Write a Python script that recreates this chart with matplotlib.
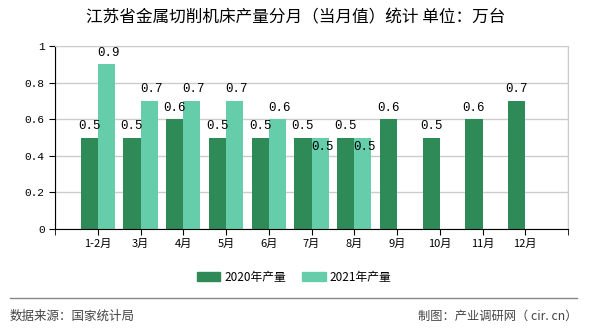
import numpy as np
import matplotlib.pyplot as plt
from matplotlib.lines import Line2D

plt.rcParams['font.family'] = ['Noto Sans CJK SC', 'DejaVu Sans']

months = ['1-2月', '3月', '4月', '5月', '6月', '7月', '8月', '9月', '10月', '11月', '12月']
prod_2020 = [0.5, 0.5, 0.6, 0.5, 0.5, 0.5, 0.5, 0.6, 0.5, 0.6, 0.7]
prod_2021 = [0.9, 0.7, 0.7, 0.7, 0.6, 0.5, 0.5]

c2020 = '#2e8b57'
c2021 = '#66cdaa'

fig = plt.figure(figsize=(5.9, 3.3), dpi=100)
ax = fig.add_axes([55/590, 1-229/330, 513/590, 183/330])

x = np.arange(1, len(months) + 1)
w = 0.4
b1 = ax.bar(x[:len(prod_2020)] - w/2, prod_2020, w, color=c2020, zorder=2)
b2 = ax.bar(x[:len(prod_2021)] + w/2, prod_2021, w, color=c2021, zorder=2)

mono = ['Liberation Mono', 'DejaVu Sans Mono']
for rect, v in zip(b1, prod_2020):
    ax.annotate(f'{v}', (rect.get_x() + rect.get_width()/2, v), xytext=(0, 4),
                textcoords='offset points', ha='center', va='bottom', fontsize=9, family=mono)
for i, (rect, v) in enumerate(zip(b2, prod_2021)):
    # labels that would collide with 2020 labels are pushed inside the bar
    dy = 4 if v != prod_2020[i] else -11
    ax.annotate(f'{v}', (rect.get_x() + rect.get_width()/2 + 0.05, v), xytext=(0, dy),
                textcoords='offset points', ha='center', va='bottom', fontsize=9, family=mono)

ax.set_xlim(0, 12)
ax.set_ylim(0, 1)
ax.set_xticks(x)
ax.set_xticklabels(months, fontsize=8)
ax.set_xticks(np.arange(0, 13), minor=True)
ax.set_yticks(np.arange(0, 1.01, 0.2))
ax.set_yticklabels(['0', '0.2', '0.4', '0.6', '0.8', '1'], fontsize=8, family=mono)
ax.grid(True, which='minor', axis='x', color='#cccccc', lw=1, zorder=0)
ax.grid(True, which='major', axis='y', color='#cccccc', lw=1, zorder=0)
ax.tick_params(axis='x', which='major', length=4, color='black', pad=3)
ax.tick_params(axis='x', which='minor', length=4, color='black')
ax.tick_params(axis='y', length=4, color='black')
for s in ['top', 'right']:
    ax.spines[s].set_color('#cccccc')
ax.spines['left'].set_color('black')
ax.spines['bottom'].set_color('black')

fig.text(296/590, 1-18/330, '江苏省金属切削机床产量分月（当月值）统计 单位：万台',
         ha='center', va='center', fontsize=12)

handles = [plt.Rectangle((0, 0), 1, 1, color=c2020), plt.Rectangle((0, 0), 1, 1, color=c2021)]
fig.legend(handles, ['2020年产量', '2021年产量'], loc='center', bbox_to_anchor=(294/590, 1-277/330),
           ncol=2, frameon=False, fontsize=8.5, handlelength=2, handleheight=0.8,
           columnspacing=1.4, handletextpad=0.3)

fig.add_artist(Line2D([10/590, 577/590], [1-298/330, 1-298/330], color='#888888', lw=1))
fig.text(10/590, 1-316/330, '数据来源：国家统计局', fontsize=9, va='center', ha='left', color='#444444')
fig.text(577/590, 1-316/330, '制图：产业调研网（ cir. cn）', fontsize=8.8, va='center', ha='right', color='#444444')

fig.savefig('out.png', dpi=100)
